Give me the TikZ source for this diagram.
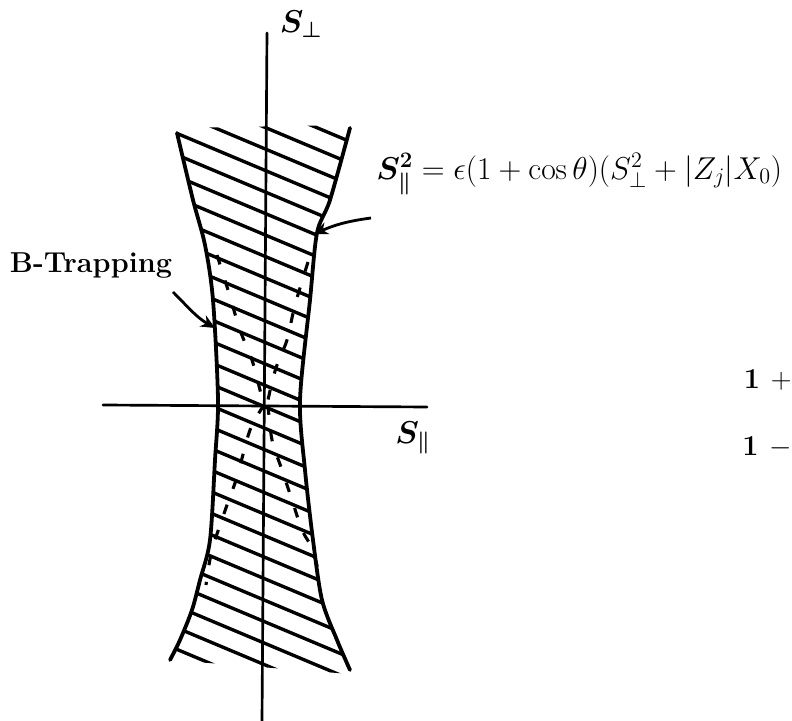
\RequirePackage{fix-cm}
\documentclass[tikz,border=0pt]{standalone}
\usepackage{amsmath, amssymb, bm}
\usetikzlibrary{arrows.meta, positioning}

\begin{document}
\begin{tikzpicture}[
    x=0.025cm, y=-0.025cm,
    axis/.style={line width=1.9pt, line cap=round},
    bound/.style={line width=2.7pt, line cap=round, line join=round},
    hatch/.style={line width=2.4pt, line cap=round},
    trap/.style={line width=2.2pt, dash pattern=on 7pt off 12pt},
    lbl/.style={inner sep=0pt, font=\fontsize{22.5}{26}\selectfont},
    txt/.style={inner sep=0pt, font=\fontsize{20.5}{24}\selectfont\bfseries},
    arrow/.style={line width=2pt, -{Stealth[length=10pt, width=9pt]}}
]
\useasboundingbox (0,0) rectangle (792,721);

% axes
\coordinate (vtop) at (267,33);
\coordinate (vbot) at (262,721);
\coordinate (hl) at (103,405);
\coordinate (hr) at (427,407);
\draw[axis] (vtop) -- (vbot);
\draw[axis] (hl) -- (hr);

\node[lbl] (sperp) at (301,24) {$\boldsymbol{S_\perp}$};
\node[lbl] (spar) at (413,438) {$\boldsymbol{S_\parallel}$};

% hatched region
\begin{scope}
  \clip (177,128) -- plot[smooth] coordinates {(177,133) (193,200) (205,245) (213,300) (218,400) (215,460) (210,540) (200,580) (192,610) (180,640) (170,660)}
        -- (350,674) -- plot[smooth] coordinates {(350,670) (337,640) (322,600) (313,540) (305,470) (300,400) (310,300) (317,233) (330,200) (350,128)}
        -- (350,125) -- cycle;
  \foreach \k in {-4,...,26}
    \draw[hatch] (150,{133+21.5*\k-0.42*26}) -- (380,{133+21.5*\k+0.42*204});
\end{scope}

% boundaries
\draw[bound] plot[smooth] coordinates {(177,133) (193,200) (205,245) (213,300) (218,400) (215,460) (210,540) (200,580) (192,610) (180,640) (170,660)};
\draw[bound] plot[smooth] coordinates {(350,128) (330,200) (317,233) (310,300) (300,400) (305,470) (313,540) (322,600) (337,640) (350,670)};

% trapping limits
\draw[trap] plot[smooth] coordinates {(217,255) (228,290) (240,330) (252,360) (260,390) (264,405)};
\draw[trap] plot[smooth] coordinates {(308,262) (295,305) (287,340) (278,362) (272,382) (267,405)};
\draw[trap] plot[smooth] coordinates {(264,405) (250,430) (237,477) (227,505) (212,550) (206,585)};
\draw[trap] plot[smooth] coordinates {(268,405) (272,440) (282,470) (292,500) (302,530) (312,548) (318,570)};

% labels
\node[lbl, anchor=west] (formula) at (376,174) {$\boldsymbol{S_\parallel^2} = \epsilon(1+\cos\theta)(S_\perp^2+|Z_j|X_0)$};
\node[txt] (btrap) at (91,266) {B-Trapping};
\node[txt, anchor=east] (oneplus) at (792,380) {1 $+$};
\node[txt, anchor=west] (oneminus) at (742,447) {1 $-$};

\coordinate (fs) at (371,218);
\coordinate (ft) at (314,234);
\draw[arrow] (fs) to[bend right=8] (ft);
\coordinate (bs) at (173,292);
\coordinate (bt) at (215,328);
\draw[arrow] (bs) to[out=-45, in=150] (bt);

\end{tikzpicture}
\end{document}
